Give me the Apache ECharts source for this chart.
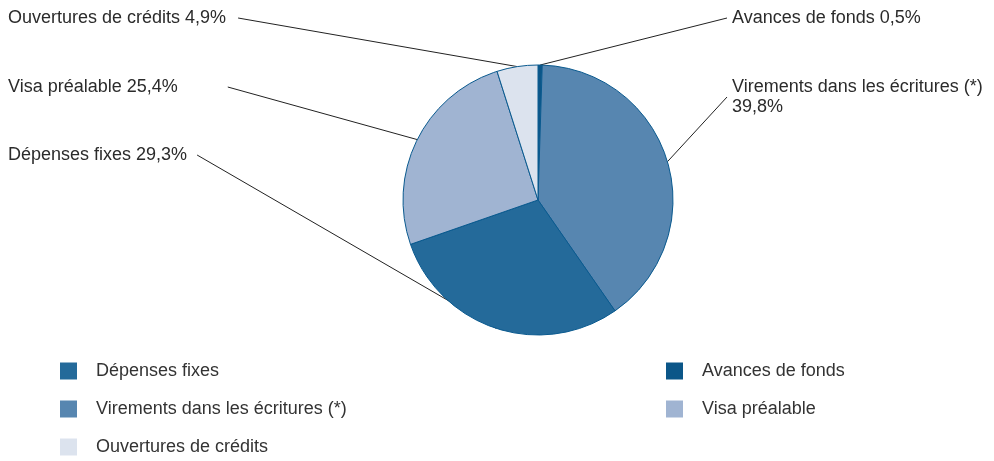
<!DOCTYPE html>
<html>
<head>
    <meta charset="utf-8">
    <title>Répartition</title>
    <script src="https://cdn.jsdelivr.net/npm/echarts@6/dist/echarts.min.js"></script>
</head>
<body style="margin:0">
    <div id="main" style="width:994px;height:461px"></div>
<script>
    // slices, clockwise from the top
    var names = ['Avances de fonds', 'Virements dans les écritures (*)', 'Dépenses fixes', 'Visa préalable', 'Ouvertures de crédits'];
    var values = [0.5, 39.8, 29.3, 25.4, 4.9];
    var colors = ['#0b5688', '#5786b0', '#246a9a', '#a0b4d2', '#dce3ee'];
    var legendLeft = ['Dépenses fixes', 'Virements dans les écritures (*)', 'Ouvertures de crédits'];
    var legendRight = ['Avances de fonds', 'Visa préalable'];

    // where each label sits: x, y, padding (the padding leaves a gap before the leader line)
    var labelPos = [
        [727, 18, [0, 0, 0, 5]],
        [727, 97, [0, 0, 0, 5]],
        [8, 155, [0, 10, 0, 0]],
        [8, 87, [0, 50, 0, 0]],
        [8, 18, [0, 12, 0, 0]]
    ];

    var chart = echarts.init(document.getElementById('main'));

    var pieData = names.map(function (n, i) {
        return {
            name: n,
            value: values[i],
            itemStyle: { color: colors[i] },
            label: { padding: labelPos[i][2] }
        };
    });

    var legendStyle = {
        orient: 'vertical',
        top: 361,
        padding: 0,
        itemWidth: 17,
        itemHeight: 17,
        itemGap: 18,
        icon: 'rect',
        selectedMode: false,
        itemStyle: { borderWidth: 0 },
        textStyle: { fontFamily: 'Liberation Sans', fontSize: 18, lineHeight: 20, color: '#333', padding: [0, 0, 0, 14] }
    };

    var option = {
        animation: false,
        backgroundColor: '#fff',
        legend: [
            Object.assign({ left: 60, data: legendLeft }, legendStyle),
            Object.assign({ left: 666, data: legendRight }, legendStyle)
        ],
        series: [{
            type: 'pie',
            center: [538, 200],
            radius: 135,
            startAngle: 90,
            clockwise: true,
            data: pieData,
            itemStyle: { borderColor: '#0a5a8f', borderWidth: 1 },
            emphasis: { disabled: true },
            label: {
                show: true,
                fontFamily: 'Liberation Sans',
                fontSize: 18,
                color: '#2b2b2b',
                lineHeight: 20,
                formatter: function (p) {
                    var v = p.value.toFixed(1).replace('.', ',') + '%';
                    if (p.dataIndex === 1) return p.name + '\n' + v;
                    return p.name + ' ' + v;
                }
            },
            labelLine: {
                show: true,
                length: 10,
                length2: 0,
                lineStyle: { color: '#222', width: 1 }
            },
            labelLayout: function (p) {
                var pos = labelPos[p.dataIndex];
                return { x: pos[0], y: pos[1], align: 'left', verticalAlign: 'middle' };
            }
        }]
    };
    chart.setOption(option);
</script>
</body>
</html>
